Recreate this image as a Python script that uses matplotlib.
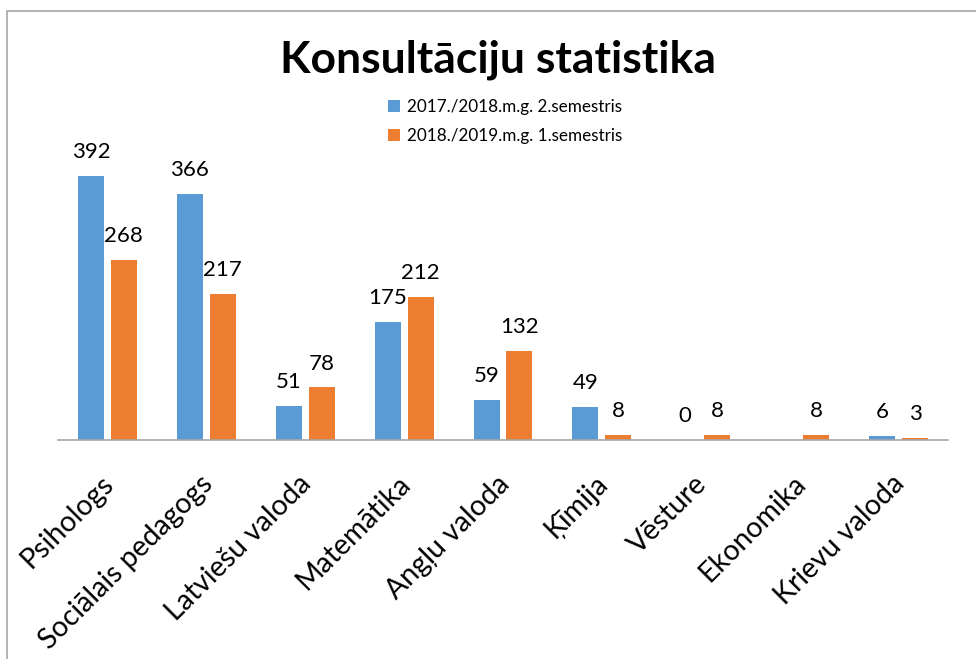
import matplotlib
matplotlib.use("Agg")
import matplotlib.pyplot as plt
from matplotlib.patches import Rectangle
from matplotlib.transforms import ScaledTranslation
import numpy as np

categories = ["Psihologs", "Sociālais pedagogs", "Latviešu valoda", "Matemātika",
              "Angļu valoda", "Ķīmija", "Vēsture", "Ekonomika", "Krievu valoda"]
series1_name = "2017./2018.m.g. 2.semestris"
series2_name = "2018./2019.m.g. 1.semestris"
series1 = [392, 366, 51, 175, 59, 49, 0, None, 6]
series2 = [268, 217, 78, 212, 132, 8, 8, 8, 3]

BLUE = "#5B9BD5"
ORANGE = "#ED7D31"
FONT = ["Lato", "DejaVu Sans"]
plt.rcParams["font.family"] = FONT

W, H = 976, 659
fig = plt.figure(figsize=(W / 100, H / 100), dpi=100)

# frame lines (chart area border, partially cropped)
fig.add_artist(Rectangle((7 / W, -0.1), 1.2, (H - 11) / H + 0.1, transform=fig.transFigure,
                         fill=False, edgecolor="#A6A6A6", linewidth=1.2))

ax_left, ax_right, ax_bottom, ax_top = 58, 948, 440, 137
ax = fig.add_axes([ax_left / W, (H - ax_bottom) / H, (ax_right - ax_left) / W, (ax_bottom - ax_top) / H])

x = np.arange(len(categories))
bw = 0.263
off = 0.1665
s1 = [np.nan if v is None else v for v in series1]
b1 = ax.bar(x - off, s1, bw, color=BLUE, label=series1_name)
b2 = ax.bar(x + off, series2, bw, color=ORANGE, label=series2_name)

for xi, v in zip(x - off, series1):
    if v is not None:
        ax.annotate(str(v), (xi, v), xytext=(0, 10), textcoords="offset points",
                    ha="center", va="bottom", fontsize=16)
for xi, v in zip(x + off, series2):
    ax.annotate(str(v), (xi, v), xytext=(0, 10), textcoords="offset points",
                ha="center", va="bottom", fontsize=16)

ax.set_xlim(-0.5, len(categories) - 0.5)
ax.set_ylim(0, 450)
ax.set_yticks([])
ax.set_xticks(x)
ax.set_xticklabels(categories, rotation=45, ha="right", rotation_mode="anchor", fontsize=20.5)
ax.tick_params(axis="x", length=0, pad=22)
shift = ScaledTranslation(-7 / 100, 0, fig.dpi_scale_trans)
for lbl in ax.get_xticklabels():
    lbl.set_transform(lbl.get_transform() + shift)
for s in ["top", "left", "right"]:
    ax.spines[s].set_visible(False)
ax.spines["bottom"].set_color("#A6A6A6")
ax.spines["bottom"].set_linewidth(1.2)

fig.text(498 / W, 1 - 60 / H, "Konsultāciju statistika", ha="center", va="center",
         fontsize=32, fontweight="bold")

fig.legend(handles=[b1, b2], labels=[series1_name, series2_name], loc="upper center",
           bbox_to_anchor=(505 / W, 1 - 84 / H), frameon=False, fontsize=12.3,
           handlelength=0.7, handleheight=0.7, handletextpad=0.4, labelspacing=0.75)

fig.savefig("out.png", dpi=100)
